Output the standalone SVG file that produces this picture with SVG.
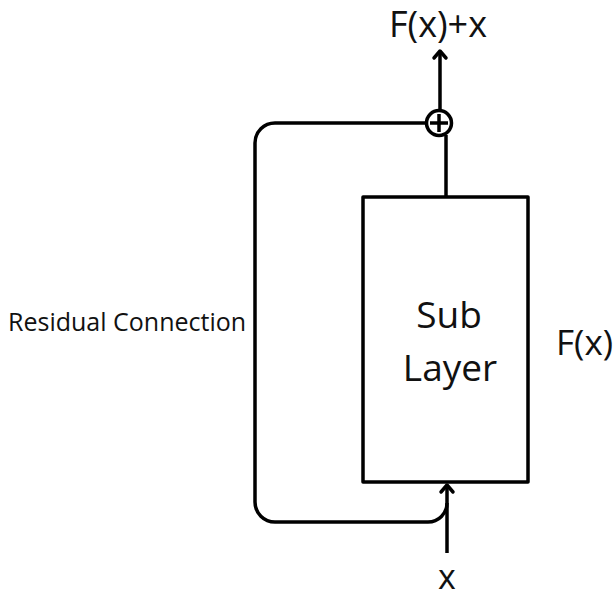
<svg xmlns="http://www.w3.org/2000/svg" width="615" height="595" viewBox="0 0 615 595">
<style>
.ln{fill:none;stroke:#000;stroke-width:3.5;stroke-linecap:butt;stroke-linejoin:round}
.ah{fill:none;stroke:#000;stroke-width:3.5;stroke-linecap:round;stroke-linejoin:round}
.t{font-family:"Open Sans","Liberation Sans",sans-serif;fill:#111}
</style>
<rect width="615" height="595" fill="#fff"/>
<g id="connectors">
<path class="ln" d="M447,553 V486"/>
<path class="ah" d="M441,492 L447,485 L453,492"/>
<path class="ln" d="M446,197 V135"/>
<path class="ln" d="M440,110 V52"/>
<path class="ah" d="M434,58 L440,51 L446,58"/>
<path class="ln" d="M447,503 A19,19 0 0 1 428,522 H275 A20,20 0 0 1 255,502 V143 A20,20 0 0 1 275,123 H426"/>
</g>
<g id="sum">
<circle cx="439" cy="123" r="12.5" class="ln"/>
<path class="ln" d="M439,114 V132 M430,123 H448" stroke-width="2.5"/>
</g>
<g id="sublayer">
<rect x="363" y="197" width="165" height="285" class="ln" stroke-width="4"/>
<text class="t" x="449" y="328" font-size="37" text-anchor="middle">Sub</text>
<text class="t" x="450" y="381" font-size="37" text-anchor="middle">Layer</text>
</g>
<text class="t" x="438" y="37" font-size="36" text-anchor="middle">F(x)+x</text>
<text class="t" x="556" y="355" font-size="35">F(x)</text>
<text class="t" x="8" y="331" font-size="25">Residual Connection</text>
<text class="t" x="447" y="589" font-size="34" text-anchor="middle">x</text>
</svg>
